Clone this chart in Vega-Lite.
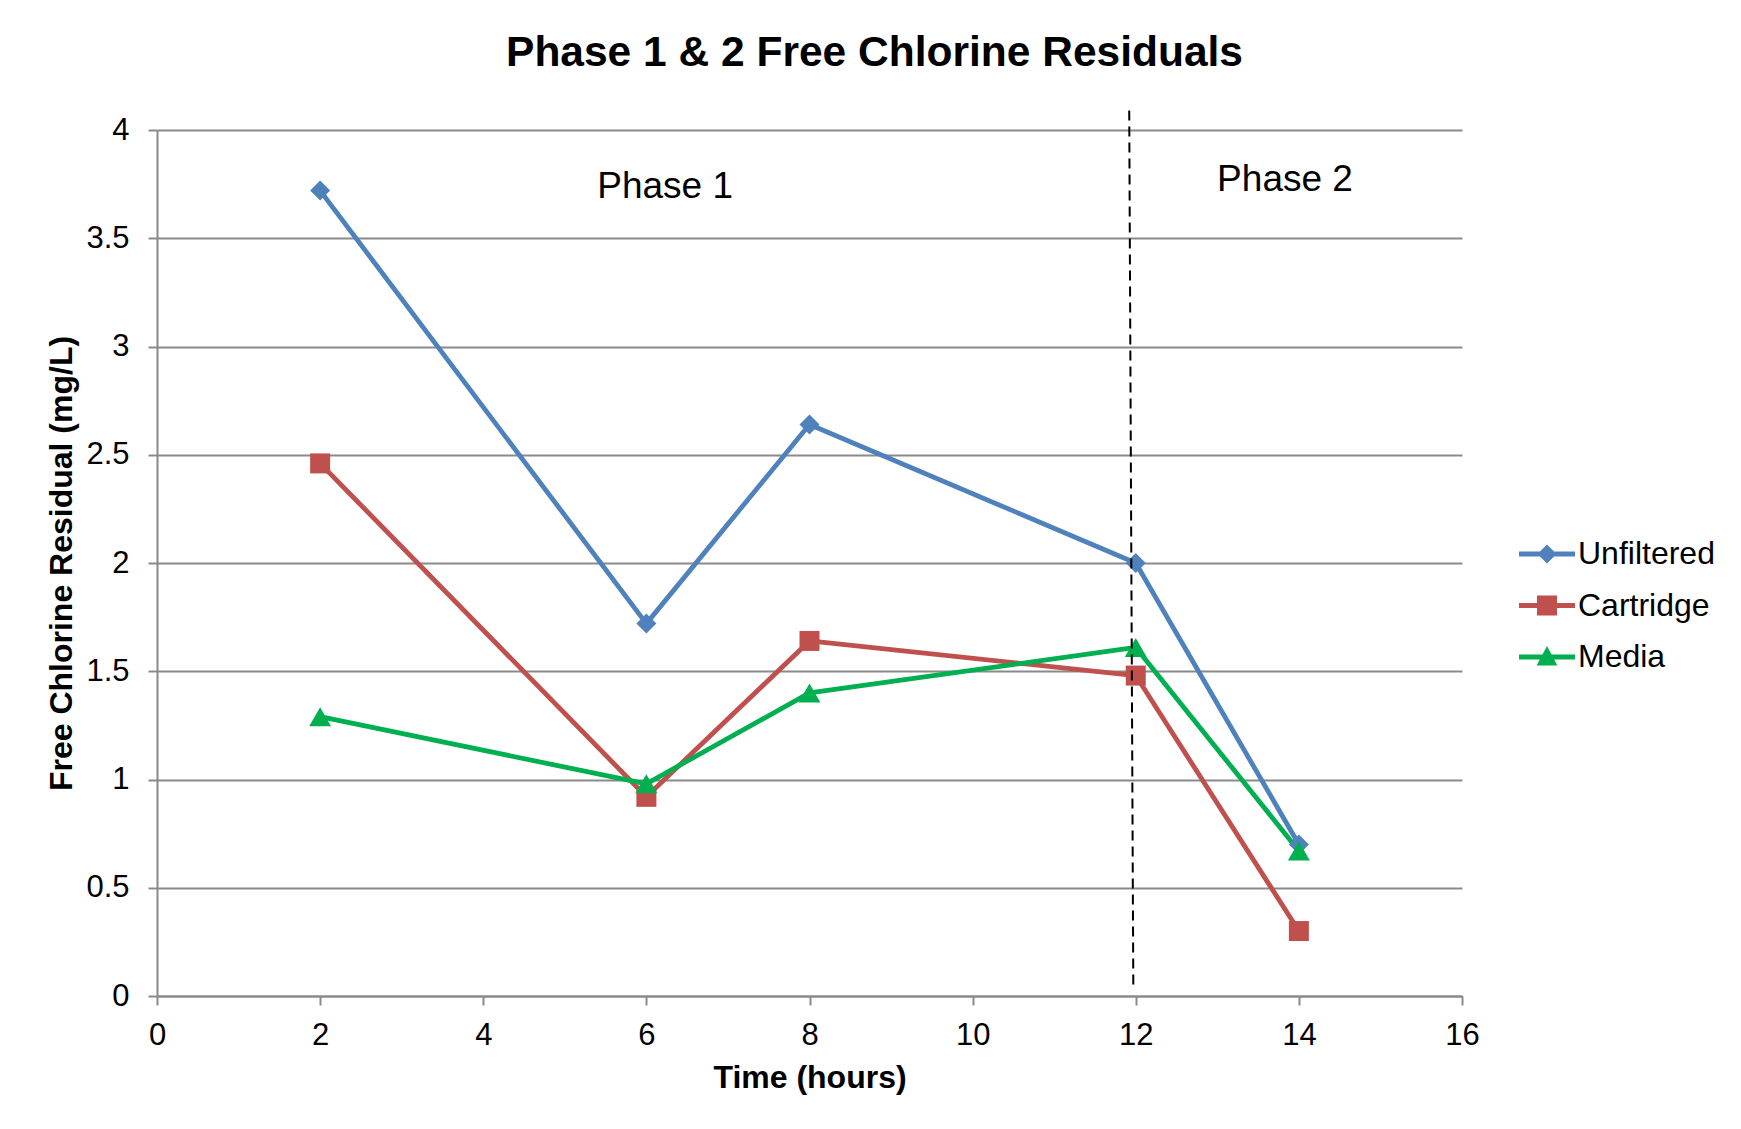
{
  "$schema": "https://vega.github.io/schema/vega-lite/v6.json",
  "width": 1305,
  "height": 866,
  "autosize": {"type": "none"},
  "padding": {"left": 157, "top": 130, "right": 279, "bottom": 133},
  "background": "white",
  "config": {
    "view": {"stroke": null},
    "font": "Liberation Sans"
  },
  "datasets": {
    "residuals": [
      {"series": "Unfiltered", "time": 2, "residual": 3.72},
      {"series": "Unfiltered", "time": 6, "residual": 1.72},
      {"series": "Unfiltered", "time": 8, "residual": 2.64},
      {"series": "Unfiltered", "time": 12, "residual": 2.0},
      {"series": "Unfiltered", "time": 14, "residual": 0.70},
      {"series": "Cartridge", "time": 2, "residual": 2.46},
      {"series": "Cartridge", "time": 6, "residual": 0.92},
      {"series": "Cartridge", "time": 8, "residual": 1.64},
      {"series": "Cartridge", "time": 12, "residual": 1.48},
      {"series": "Cartridge", "time": 14, "residual": 0.30},
      {"series": "Media", "time": 2, "residual": 1.29},
      {"series": "Media", "time": 6, "residual": 0.98},
      {"series": "Media", "time": 8, "residual": 1.40},
      {"series": "Media", "time": 12, "residual": 1.61},
      {"series": "Media", "time": 14, "residual": 0.67}
    ]
  },
  "title": {
    "text": "Phase 1 & 2 Free Chlorine Residuals",
    "fontSize": 42.5,
    "fontWeight": "bold",
    "color": "black",
    "anchor": "middle",
    "baseline": "alphabetic",
    "offset": 36,
    "dx": 65,
    "dy": 35
  },
  "encoding": {
    "x": {
      "field": "time",
      "type": "quantitative",
      "scale": {"domain": [0, 16], "nice": false, "zero": false},
      "axis": {
        "title": "Time (hours)",
        "values": [0, 2, 4, 6, 8, 10, 12, 14, 16],
        "grid": false,
        "domainColor": "#8a8a8a",
        "domainWidth": 2,
        "tickColor": "#8a8a8a",
        "tickWidth": 2,
        "tickSize": 9,
        "labelFontSize": 31,
        "labelColor": "black",
        "labelPadding": 15,
        "labelFlush": false,
        "labelOverlap": false,
        "titleFontSize": 32,
        "titleFontWeight": "bold",
        "titleColor": "black",
        "titlePadding": 12
      }
    },
    "y": {
      "field": "residual",
      "type": "quantitative",
      "scale": {"domain": [0, 4], "nice": false},
      "axis": {
        "title": "Free Chlorine Residual (mg/L)",
        "values": [0, 0.5, 1, 1.5, 2, 2.5, 3, 3.5, 4],
        "format": "~g",
        "grid": true,
        "gridColor": "#8a8a8a",
        "gridWidth": 2,
        "domainColor": "#8a8a8a",
        "domainWidth": 2,
        "tickColor": "#8a8a8a",
        "tickWidth": 2,
        "tickSize": 9,
        "labelFontSize": 31,
        "labelColor": "black",
        "labelPadding": 19,
        "labelFlush": false,
        "labelOverlap": false,
        "titleFontSize": 32,
        "titleFontWeight": "bold",
        "titleColor": "black",
        "titlePadding": 7
      }
    }
  },
  "layer": [
    {
      "data": {"name": "residuals"},
      "mark": {"type": "line", "strokeWidth": 4.8, "strokeJoin": "round", "strokeCap": "round"},
      "encoding": {
        "color": {
          "field": "series",
          "type": "nominal",
          "scale": {"domain": ["Unfiltered", "Cartridge", "Media"], "range": ["#4F81BD", "#C0504D", "#00B050"]},
          "legend": {
            "title": null,
            "orient": "none",
            "legendX": 1370,
            "legendY": 404,
            "padding": 0,
            "symbolSize": 1600,
            "labelFontSize": 32,
            "labelColor": "black",
            "labelOffset": 11,
            "rowPadding": 15.5,
            "encode": {
              "symbols": {
                "update": {
                  "shape": {"signal": "datum.value === 'Unfiltered' ? 'M-1.4,-0.12H1.4V0.12H-1.4Z M0,-0.48L0.48,0L0,0.48L-0.48,0Z' : datum.value === 'Cartridge' ? 'M-1.4,-0.12H1.4V0.12H-1.4Z M-0.5,-0.5H0.5V0.5H-0.5Z' : 'M-1.4,-0.12H1.4V0.12H-1.4Z M0,-0.55L0.52,0.42L-0.52,0.42Z'"},
                  "size": {"value": 1600},
                  "fill": {"scale": "color", "field": "value"},
                  "fillOpacity": {"value": 1},
                  "opacity": {"value": 1},
                  "strokeWidth": {"value": 0}
                }
              }
            }
          }
        },
        "detail": {"field": "series", "type": "nominal"}
      }
    },
    {
      "data": {"name": "residuals"},
      "transform": [{"filter": "datum.series === 'Unfiltered'"}],
      "mark": {"type": "point", "filled": true, "opacity": 1, "shape": "diamond", "size": 400},
      "encoding": {
        "color": {"field": "series", "type": "nominal"}
      }
    },
    {
      "data": {"name": "residuals"},
      "transform": [{"filter": "datum.series === 'Cartridge'"}],
      "mark": {"type": "point", "filled": true, "opacity": 1, "shape": "square", "size": 400},
      "encoding": {
        "color": {"field": "series", "type": "nominal"}
      }
    },
    {
      "data": {"name": "residuals"},
      "transform": [{"filter": "datum.series === 'Media'"}],
      "mark": {"type": "point", "filled": true, "opacity": 1, "shape": "triangle-up", "size": 480},
      "encoding": {
        "color": {"field": "series", "type": "nominal"}
      }
    },
    {
      "data": {"values": [{"time": 11.92, "time2": 11.97, "residual": 4.09, "residual2": 0.04}]},
      "mark": {"type": "rule", "color": "black", "strokeWidth": 2, "strokeDash": [10, 6]},
      "encoding": {
        "x2": {"field": "time2"},
        "y2": {"field": "residual2"}
      }
    },
    {
      "data": {"values": [
        {"label": "Phase 1", "time": 6.23, "residual": 3.685},
        {"label": "Phase 2", "time": 13.83, "residual": 3.716}
      ]},
      "mark": {"type": "text", "fontSize": 37, "color": "black", "align": "center", "baseline": "alphabetic"},
      "encoding": {
        "text": {"field": "label", "type": "nominal"}
      }
    }
  ]
}
